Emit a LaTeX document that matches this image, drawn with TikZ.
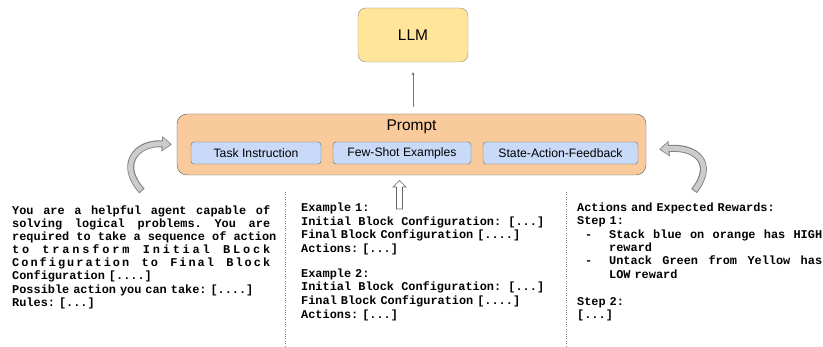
\documentclass[tikz,border=0pt]{standalone}
\usepackage{fontspec}
\setmainfont{Liberation Sans}
\setmonofont{Liberation Mono}
\usetikzlibrary{arrows.meta}

\definecolor{llmyellow}{HTML}{FFE599}
\definecolor{promptorange}{HTML}{F9CB9C}
\definecolor{partblue}{HTML}{C9DAF8}

% justified lines of the monospaced text
\newcommand{\jline}[1]{{\spaceskip=\fontcharwd\font`x plus 1fil\makebox[\hsize][s]{#1}}}
\newcommand{\bline}[1]{\hspace*{8pt}\makebox[24pt][l]{-}{\spaceskip=\fontcharwd\font`x plus 1fil\makebox[\dimexpr\hsize-32pt\relax][s]{#1}}}
\newcommand{\codefont}[1]{\fontsize{11.9}{#1}\selectfont\ttfamily\bfseries\frenchspacing\spaceskip=\fontcharwd\font`x\relax}

\begin{document}
\begin{tikzpicture}[x=1pt,y=-1pt]
	\useasboundingbox (0,0) rectangle (823,347);
	
	% Style for the boxes
	\tikzstyle{box}=[
	rectangle,
	draw,
	align=center,
	inner sep=0pt
	]
	\tikzstyle{part}=[box, fill=partblue, draw=black!60, rounded corners=3pt,
	minimum height=22pt, font=\fontsize{12.2}{14}\selectfont]
	\tikzstyle{code}=[inner sep=0pt, align=left, anchor=north west]
	\tikzstyle{curveout}=[draw=black!50, line width=7pt, -{Triangle[width=15pt,length=10pt]}]
	\tikzstyle{curvein}=[draw=black!20, line width=5pt, shorten >=1.5pt, shorten <=1pt,
	-{Triangle[width=12pt,length=7.5pt]}]
	
	% --- Model and prompt ---
	\node[box, fill=llmyellow, draw=black!45, rounded corners=8pt,
	minimum width=110pt, minimum height=54pt, font=\fontsize{15.5}{18}\selectfont] (LLM) at (413, 35) {LLM};
	\node[box, fill=promptorange, draw=black!65, rounded corners=10pt,
	minimum width=469pt, minimum height=61pt] (PR) at (411.5, 144.5) {};
	\node[font=\fontsize{15.5}{18}\selectfont] (PRT) at (411.5, 127) {Prompt};
	
	% --- Parts of the prompt ---
	\node[part, minimum width=130pt] (TI) at (256, 153) {Task Instruction};
	\node[part, minimum width=138pt] (FSE) at (402, 153) {Few-Shot Examples};
	\node[part, minimum width=155pt] (SAF) at (560.5, 153) {State-Action-Feedback};
	
	\draw[-{Stealth[length=3pt,width=3pt]}, black!55, line width=0.9pt,
	shorten <=7pt, shorten >=10pt] (PR.north -| LLM.south) -- (LLM.south);
	
	% --- Texts of the parts ---
	\node[code, text width=258pt, font=\codefont{13.1}] (TItext) at (12, 205.5) {%
		\jline{You are a helpful agent capable of}\\
		\jline{solving logical problems. You are}\\
		\jline{required to take a sequence of action}\\
		\jline{\addfontfeatures{LetterSpace=24}to transform Initial BLock}\\
		\jline{\addfontfeatures{LetterSpace=17}Configuration to Final Block}\\
		Configuration [....]\\
		Possible action you can take: [....]\\
		Rules: [...]};
	
	\node[code, text width=243pt, font=\codefont{13.8}] (FSEtext) at (301, 202.5) {%
		Example 1:\\
		\jline{Initial Block Configuration: [...]}\\
		Final Block Configuration [....]\\
		Actions: [...]\\[10.6pt]
		Example 2:\\
		\jline{Initial Block Configuration: [...]}\\
		Final Block Configuration [....]\\
		Actions: [...]};
	
	\node[code, text width=245pt, font=\codefont{13.4}] (SAFtext) at (577, 202.5) {%
		Actions and Expected Rewards:\\
		Step 1:\\
		\bline{Stack blue on orange has HIGH}\\
		\hspace*{32pt}reward\\
		\bline{Untack Green from Yellow has}\\
		\hspace*{32pt}LOW reward\\[13.4pt]
		Step 2:\\
		{[...]}};
	
	% dotted separators
	\draw[dotted, black!50] (285, 192) -- (285, 347);
	\draw[dotted, black!50] (566, 192) -- (566, 347);
	
	% --- Arrows into the prompt ---
	\coordinate (HA) at (399.5, 209);
	\draw[black!60, fill=white, line width=0.6pt] (HA) ++(-3, 0) -- ++(0, -22) -- ++(-3.5, 0)
	-- ++(6.5, -6.5) -- ++(6.5, 6.5) -- ++(-3.5, 0) -- ++(0, 22) -- cycle;
	
	\coordinate (LA) at (142, 191);
	\coordinate (RA) at (694, 191);
	\draw[curveout] (LA) .. controls (118, 165) and (136, 142) .. ([xshift=-5pt]PR.west);
	\draw[curvein] (LA) .. controls (118, 165) and (136, 142) .. ([xshift=-5pt]PR.west);
	\draw[curveout] (RA) .. controls (716, 163) and (696, 146) .. ([xshift=13pt,yshift=-5pt]PR.east);
	\draw[curvein] (RA) .. controls (716, 163) and (696, 146) .. ([xshift=13pt,yshift=-5pt]PR.east);
\end{tikzpicture}
\end{document}
